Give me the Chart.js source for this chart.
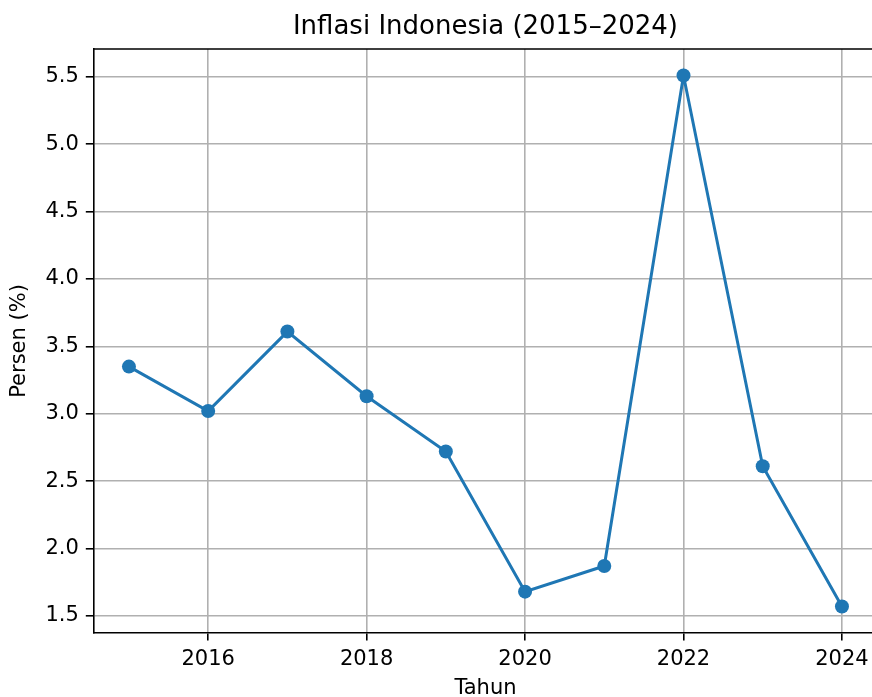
<!DOCTYPE html>
<html>
<head>
<meta charset="utf-8">
<script src="https://cdn.jsdelivr.net/npm/chart.js@4/dist/chart.umd.min.js"></script>
<style>
  html, body { margin: 0; padding: 0; overflow: hidden; background: #fff; }
  .wrap { width: 890px; height: 710px; position: relative; }
</style>
</head>
<body>
<div class="wrap"><canvas class="myChart"></canvas></div>
<script>
// data
const years = [2015, 2016, 2017, 2018, 2019, 2020, 2021, 2022, 2023, 2024]
const inflation = [3.35, 3.02, 3.61, 3.13, 2.72, 1.68, 1.87, 5.51, 2.61, 1.57]

const xTicks = [2016, 2018, 2020, 2022, 2024]
const yTicks = [1.5, 2.0, 2.5, 3.0, 3.5, 4.0, 4.5, 5.0, 5.5]

const chartTitle = 'Inflasi Indonesia (2015\u20132024)'

const blue = '#1f77b4'
const gridColor = '#b0b0b0'
const fontFamily = "'DejaVu Sans', sans-serif"

// top spine (right spine falls outside the window) and a title centred over the axes
const framePlugin = {
  id: 'frame',
  afterDraw(chart) {
    const { ctx, chartArea } = chart
    ctx.save()
    ctx.strokeStyle = '#000'
    ctx.lineWidth = 1.6
    ctx.beginPath()
    ctx.moveTo(chartArea.left, chartArea.top)
    ctx.lineTo(chartArea.right, chartArea.top)
    ctx.lineTo(chartArea.right, chartArea.bottom)
    ctx.stroke()

    ctx.fillStyle = '#000'
    ctx.font = '26px ' + fontFamily
    ctx.textAlign = 'center'
    ctx.textBaseline = 'middle'
    ctx.fillText(chartTitle, (chartArea.left + chartArea.right) / 2, 27)
    ctx.restore()
  }
}

const ctx = document.querySelector('.myChart').getContext('2d')

new Chart(ctx, {
  type: 'line',
  data: {
    datasets: [
      {
        label: 'Inflasi',
        data: years.map((y, i) => ({ x: y, y: inflation[i] })),
        borderColor: blue,
        backgroundColor: blue,
        borderWidth: 3,
        pointRadius: 7,
        pointHoverRadius: 7,
        pointBorderWidth: 0,
        tension: 0
      }
    ]
  },
  options: {
    responsive: true,
    maintainAspectRatio: false,
    animation: false,
    layout: { padding: { left: 0, right: 12.4, top: 49, bottom: 0 } },
    plugins: {
      legend: { display: false },
      tooltip: { enabled: false },
      title: { display: false }
    },
    scales: {
      x: {
        type: 'linear',
        min: 2014.55,
        max: 2024.45,
        afterBuildTicks: scale => { scale.ticks = xTicks.map(v => ({ value: v })) },
        afterFit: scale => { scale.height = 77 },
        ticks: {
          color: '#000',
          font: { family: fontFamily, size: 21 },
          padding: 6,
          maxRotation: 0,
          callback: v => String(v)
        },
        grid: { color: gridColor, lineWidth: 1.6, tickColor: '#000', tickLength: 7.5, tickWidth: 1.6 },
        border: { color: '#000', width: 1.6 },
        title: {
          display: true,
          text: 'Tahun',
          color: '#000',
          font: { family: fontFamily, size: 21, lineHeight: 1.2 },
          padding: { top: 0, bottom: 9 }
        }
      },
      y: {
        type: 'linear',
        min: 1.373,
        max: 5.707,
        afterBuildTicks: scale => { scale.ticks = yTicks.map(v => ({ value: v })) },
        afterFit: scale => { scale.width = 93.3 },
        ticks: {
          color: '#000',
          font: { family: fontFamily, size: 21 },
          padding: 7,
          callback: v => v.toFixed(1)
        },
        grid: { color: gridColor, lineWidth: 1.6, tickColor: '#000', tickLength: 7.5, tickWidth: 1.6 },
        border: { color: '#000', width: 1.6 },
        title: {
          display: true,
          text: 'Persen (%)',
          color: '#000',
          font: { family: fontFamily, size: 21, lineHeight: 1.2 },
          padding: { top: 7, bottom: 0 }
        }
      }
    }
  },
  plugins: [framePlugin]
})
</script>
</body>
</html>
